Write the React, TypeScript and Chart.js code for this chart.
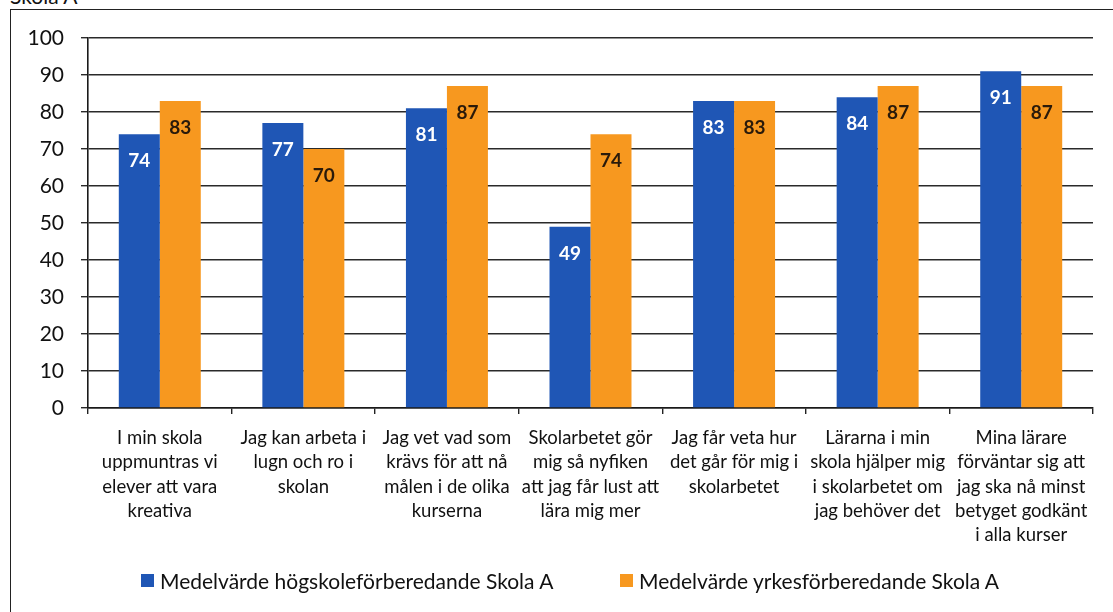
import React, { useEffect, useRef } from "react";
import { Chart, registerables } from "chart.js";

Chart.register(...registerables);

const categories: string[][] = [
  ["I min skola", "uppmuntras vi", "elever att vara", "kreativa"],
  ["Jag kan arbeta i", "lugn och ro i", "skolan"],
  ["Jag vet vad som", "krävs för att nå", "målen i de olika", "kurserna"],
  ["Skolarbetet gör", "mig så nyfiken", "att jag får lust att", "lära mig mer"],
  ["Jag får veta hur", "det går för mig i", "skolarbetet"],
  ["Lärarna i min", "skola hjälper mig", "i skolarbetet om", "jag behöver det"],
  ["Mina lärare", "förväntar sig att", "jag ska nå minst", "betyget godkänt", "i alla kurser"],
];

const seriesNames = [
  "Medelvärde högskoleförberedande Skola A",
  "Medelvärde yrkesförberedande Skola A",
];

const hogskoleValues = [74, 77, 81, 49, 83, 84, 91];
const yrkesValues = [83, 70, 87, 74, 83, 87, 87];

const seriesColors = ["#1F56B5", "#F7981F"];
const labelColors = ["#FFFFFF", "#2A1A0A"];

const FONT = "Lato, 'Open Sans', sans-serif";

const valueLabelPlugin = {
  id: "valueLabels",
  afterDatasetsDraw(chart: any) {
    const ctx = chart.ctx;
    ctx.save();
    ctx.font = `bold 19px ${FONT}`;
    ctx.textAlign = "center";
    ctx.textBaseline = "middle";
    chart.data.datasets.forEach((ds: any, di: number) => {
      const meta = chart.getDatasetMeta(di);
      meta.data.forEach((el: any, i: number) => {
        ctx.fillStyle = labelColors[di];
        ctx.fillText(String(ds.data[i]), el.x, el.y + 27);
      });
    });
    ctx.restore();
  },
};

export default function App() {
  const canvasRef = useRef<HTMLCanvasElement | null>(null);

  useEffect(() => {
    if (!canvasRef.current) return;
    const chart = new Chart(canvasRef.current, {
      type: "bar",
      data: {
        labels: categories,
        datasets: [
          {
            label: seriesNames[0],
            data: hogskoleValues,
            backgroundColor: seriesColors[0],
            categoryPercentage: 0.571,
            barPercentage: 1,
          },
          {
            label: seriesNames[1],
            data: yrkesValues,
            backgroundColor: seriesColors[1],
            categoryPercentage: 0.571,
            barPercentage: 1,
          },
        ],
      },
      options: {
        animation: false,
        responsive: false,
        maintainAspectRatio: false,
        layout: { padding: { top: 38, right: 20, left: 0, bottom: 0 } },
        plugins: {
          legend: { display: false },
          tooltip: { enabled: false },
        },
        scales: {
          x: {
            grid: {
              drawOnChartArea: false,
              drawTicks: true,
              tickLength: 6,
              color: "#222",
              lineWidth: 1.4,
              offset: true,
            },
            border: { color: "#1a1a1a", width: 1.6 },
            ticks: {
              autoSkip: false,
              maxRotation: 0,
              minRotation: 0,
              padding: 12,
              color: "#111",
              font: { family: FONT, size: 18.5, lineHeight: 1.31 },
            },
            afterFit(scale: any) {
              scale.height = 204;
            },
          },
          y: {
            min: 0,
            max: 100,
            ticks: {
              stepSize: 10,
              padding: 17,
              color: "#111",
              font: { family: FONT, size: 21 },
            },
            grid: {
              color: "#2a2a2a",
              lineWidth: 1.4,
              tickLength: 7,
            },
            border: { color: "#1a1a1a", width: 1.6 },
            afterFit(scale: any) {
              scale.width = 88;
            },
          },
        },
      },
      plugins: [valueLabelPlugin],
    });
    return () => chart.destroy();
  }, []);

  const legendItem = (i: number, left: number) => (
    <div
      key={i}
      style={{
        position: "absolute",
        left,
        top: 568,
        height: 24,
        display: "flex",
        alignItems: "center",
        fontFamily: FONT,
        fontSize: 21,
        color: "#111",
        whiteSpace: "nowrap",
      }}
    >
      <span
        style={{
          display: "inline-block",
          width: 13,
          height: 13,
          background: seriesColors[i],
          marginRight: 6,
        }}
      />
      <span>{seriesNames[i]}</span>
    </div>
  );

  return (
    <div
      style={{
        position: "fixed",
        left: 0,
        top: 0,
        width: 1113,
        height: 612,
        overflow: "hidden",
        background: "#fff",
      }}
    >
      <div
        style={{
          position: "absolute",
          left: 10,
          top: -16,
          fontFamily: FONT,
          fontSize: 21,
          lineHeight: "24px",
          color: "#111",
        }}
      >
        Skola A
      </div>
      <div
        style={{
          position: "absolute",
          left: 10,
          top: 9,
          width: 1300,
          height: 800,
          border: "1.5px solid #222",
        }}
      />
      <canvas
        ref={canvasRef}
        width={1113}
        height={612}
        style={{ position: "absolute", left: 0, top: 0, width: 1113, height: 612 }}
      />
      {legendItem(0, 141)}
      {legendItem(1, 620)}
    </div>
  );
}
